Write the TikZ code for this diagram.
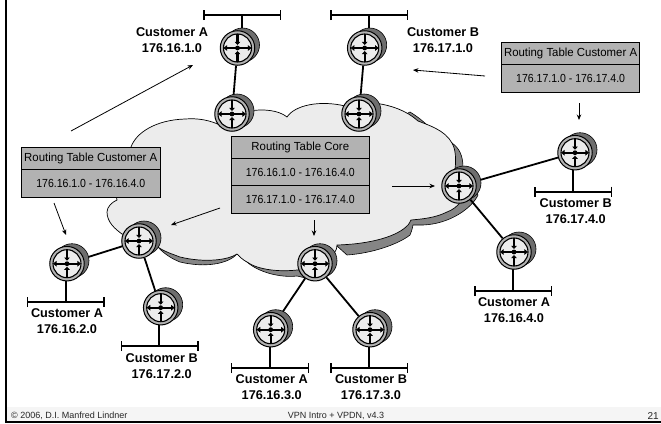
\documentclass[tikz,border=0pt]{standalone}
\usepackage{fontspec}
\setmainfont{Liberation Sans}
\usetikzlibrary{arrows.meta}
\pgfdeclarelayer{cloudlayer}
\pgfdeclarelayer{linklayer}
\pgfsetlayers{cloudlayer,linklayer,main}
\definecolor{cellgray}{HTML}{B2B2B2}
\definecolor{cloudfill}{HTML}{ECECEC}
\definecolor{cloudshade}{HTML}{858585}
\definecolor{bodygray}{HTML}{6E6E6E}
\definecolor{footband}{HTML}{F5F5F5}
\tikzset{
  backdisc/.style={circle,draw=black,line width=.6pt,fill=bodygray,minimum size=34pt,inner sep=0pt},
  ringdisc/.style={circle,draw=black,line width=1pt,fill=cellgray,minimum size=34.5pt,inner sep=0pt},
  innerdisc/.style={circle,draw=black,line width=1.1pt,fill=cloudfill,minimum size=28pt,inner sep=0pt},
  crossarrow/.style={line width=2.2pt,-{Triangle[length=3.2pt,width=5.6pt]}},
  biarrow/.style={line width=2pt,{Triangle[length=3.6pt,width=5.6pt]}-{Triangle[length=3.6pt,width=5.6pt]}},
  link/.style={line width=1.8pt,draw=black},
  netbar/.style={line width=1.7pt,{Bar[width=10pt,line width=1.5pt]}-{Bar[width=10pt,line width=1.5pt]}},
  hint/.style={line width=.8pt,-{Stealth[length=5.5pt,width=4.5pt]}},
  cell/.style={draw=black,line width=1pt,fill=cellgray,inner sep=0pt,font=\fontsize{11.7}{13}\selectfont},
  netlabel/.style={align=center,inner sep=0pt,font=\fontsize{12.7}{16}\selectfont\bfseries},
  foottext/.style={inner sep=0pt,font=\fontsize{9}{10}\selectfont,text=black!85}
}
\newcommand{\titletext}[1]{\scalebox{.975}[1]{#1}}
\newcommand{\rangetext}[1]{\scalebox{.9}[1]{#1}}
\newcommand{\routerat}[3]{%
  \node[backdisc] (#1back) at (#2+5,#3-3) {};
  \node[ringdisc] (#1) at (#2,#3) {};
  \node[innerdisc] (#1in) at (#2,#3) {};
  \draw[biarrow] (#2-14,#3) -- (#2+14,#3);
  \draw[crossarrow] (#2,#3-14) -- (#2,#3-3);
  \draw[crossarrow] (#2,#3+14) -- (#2,#3+3);
  \fill (#2,#3) circle (2.4pt);
}
\begin{document}
\begin{tikzpicture}[x=1pt,y=-1pt]
\useasboundingbox (0,0) rectangle (661,423);
% frame and footer
\fill[footband] (6,407) rectangle (661,421);
\fill[black] (5,0) rectangle (6.8,423);
\fill[black] (5,421.3) rectangle (661,423);
\node[foottext,anchor=west] (foota) at (11,415.5) {© 2006, D.I. Manfred Lindner};
\node[foottext,anchor=center] (footb) at (336,415.5) {VPN Intro + VPDN, v4.3};
\node[foottext,anchor=east,font=\fontsize{10}{11}\selectfont] (footc) at (659,416) {21};
% routers
\routerat{ra}{237.5}{48}
\routerat{rb}{232}{114}
\routerat{rc}{364.7}{48}
\routerat{rd}{359}{114}
\routerat{re}{575}{152.7}
\routerat{rf}{459}{186}
\routerat{rg}{139}{241}
\routerat{rh}{67}{263.7}
\routerat{ri}{160.7}{307.7}
\routerat{rj}{315}{263.7}
\routerat{rk}{270.7}{329.7}
\routerat{rl}{370}{329.7}
\routerat{rm}{514}{252}
% network bar ends
\coordinate (na) at (242,15);   \coordinate (nal) at (203,15);    \coordinate (nar) at (281,15);
\coordinate (nc) at (369,15);   \coordinate (ncl) at (330,15);    \coordinate (ncr) at (408,15);
\coordinate (ne) at (573,191.7);\coordinate (nel) at (534,191.7); \coordinate (ner) at (612,191.7);
\coordinate (nh) at (65.7,302); \coordinate (nhl) at (26.7,302);  \coordinate (nhr) at (104.7,302);
\coordinate (ni) at (159,346);  \coordinate (nil) at (120.7,346); \coordinate (nir) at (198.7,346);
\coordinate (nk) at (269.7,368);\coordinate (nkl) at (230.7,368); \coordinate (nkr) at (309,368);
\coordinate (nl) at (369,368);  \coordinate (nll) at (330,368);   \coordinate (nlr) at (408,368);
\coordinate (nm) at (512.7,291);\coordinate (nml) at (474,291);   \coordinate (nmr) at (552,291);
\foreach \n in {a,c,e,h,i,k,l,m}{\draw[netbar] (n\n l) -- (n\n r);}
\begin{pgfonlayer}{cloudlayer}
% cloud shadow
\draw[fill=cloudshade,line width=.6pt]
  (410,112) .. controls (418,117) and (423,121) .. (428,126)
  -- (452,143) .. controls (459,148) and (463,155) .. (463,168)
  -- (478,195)
  .. controls (472,208) and (450,224) .. (423,225)
  -- (413,225) .. controls (412,230) and (411,233) .. (410,235)
  .. controls (400,243) and (375,253) .. (347,255)
  -- (337,246) -- (315,280) -- (297,276)
  .. controls (280,278) and (258,272) .. (247,262)
  -- (237,254) .. controls (228,264) and (205,268) .. (180,262)
  .. controls (172,259) and (163,253) .. (158,247) -- cycle;
% cloud
\draw[fill=cloudfill,line width=.7pt]
  (131,147) .. controls (136,133) and (155,120) .. (185,119)
  .. controls (198,118) and (210,120) .. (222,126)
  .. controls (225,112) and (270,103) .. (287,117)
  .. controls (295,105) and (320,100) .. (345,106)
  .. controls (355,100) and (395,100) .. (418,121)
  .. controls (428,125) and (445,130) .. (452,143)
  .. controls (456,150) and (456,160) .. (455,170)
  -- (465,190)
  .. controls (465,198) and (458,208) .. (447,212)
  .. controls (435,218) and (422,219) .. (411,220)
  .. controls (410,222) and (409,224) .. (408,225)
  .. controls (398,236) and (372,244) .. (337,245)
  .. controls (338,255) and (320,268) .. (297,270)
  .. controls (280,272) and (258,270) .. (247,262)
  .. controls (243,260) and (240,257) .. (237,254)
  .. controls (228,260) and (205,263) .. (180,257)
  .. controls (172,254) and (163,251) .. (158,247)
  -- (122,234) .. controls (115,229) and (107,222) .. (107,212)
  .. controls (107,207) and (112,202) .. (117,200)
  .. controls (112,180) and (120,160) .. (131,147) -- cycle;
\end{pgfonlayer}
\begin{pgfonlayer}{linklayer}
\draw[link] (na) -- (242,30);
\draw[link] (nc) -- (369,30);
\draw[link] (ne) -- (573,160);
\draw[link] (nh) -- (65.7,270);
\draw[link] (ni) -- (159,315);
\draw[link] (nk) -- (269.7,335);
\draw[link] (nl) -- (369,335);
\draw[link] (nm) -- (512.7,260);
\draw[link] (ra) -- (rb);
\draw[link] (rc) -- (rd);
\draw[link] (re) -- (rf);
\draw[link] (rf) -- (rm);
\draw[link] (rg) -- (rh);
\draw[link] (rg) -- (ri);
\draw[link] (rj) -- (rk);
\draw[link] (rj) -- (rl);
\end{pgfonlayer}
% tables
\node[cell,minimum width=138.5pt,minimum height=22pt] (lt1) at (90.75,158.5) {\titletext{Routing Table Customer A}};
\node[cell,minimum width=138.5pt,minimum height=28pt] (lt2) at (90.75,183.5) {\rangetext{176.16.1.0 - 176.16.4.0}};
\node[cell,minimum width=138pt,minimum height=22pt] (ct1) at (300.3,147.7) {\titletext{Routing Table Core}};
\node[cell,minimum width=138pt,minimum height=27pt] (ct2) at (300.3,172.2) {\rangetext{176.16.1.0 - 176.16.4.0}};
\node[cell,minimum width=138pt,minimum height=28pt] (ct3) at (300.3,199.7) {\rangetext{176.17.1.0 - 176.17.4.0}};
\node[cell,minimum width=138.7pt,minimum height=22.4pt] (rt1) at (570.6,53.5) {\titletext{Routing Table Customer A}};
\node[cell,minimum width=138.7pt,minimum height=27.6pt] (rt2) at (570.6,78.5) {\rangetext{176.17.1.0 - 176.17.4.0}};
% labels
\node[netlabel] (la) at (172,40) {Customer A\\176.16.1.0};
\node[netlabel] (lc) at (443,40) {Customer B\\176.17.1.0};
\node[netlabel] (le) at (575.7,211) {Customer B\\176.17.4.0};
\node[netlabel] (lh) at (67,321.5) {Customer A\\176.16.2.0};
\node[netlabel] (li) at (161.7,366) {Customer B\\176.17.2.0};
\node[netlabel] (lk) at (271.7,387.5) {Customer A\\176.16.3.0};
\node[netlabel] (ll) at (371,387.5) {Customer B\\176.17.3.0};
\node[netlabel] (lm) at (514,310.3) {Customer A\\176.16.4.0};
% table-pointing arrows
\coordinate (h1a) at (71,131);  \coordinate (h1b) at (193,65);
\coordinate (h2a) at (485,76);  \coordinate (h2b) at (413,70);
\coordinate (h3a) at (579,103); \coordinate (h3b) at (579,120);
\coordinate (h4a) at (392,186); \coordinate (h4b) at (435,186);
\coordinate (h5a) at (54,203);  \coordinate (h5b) at (66,235);
\coordinate (h6a) at (220,208); \coordinate (h6b) at (171,225);
\coordinate (h7a) at (314,220); \coordinate (h7b) at (314,236);
\foreach \n in {1,...,7}{\draw[hint] (h\n a) -- (h\n b);}
\end{tikzpicture}
\end{document}
